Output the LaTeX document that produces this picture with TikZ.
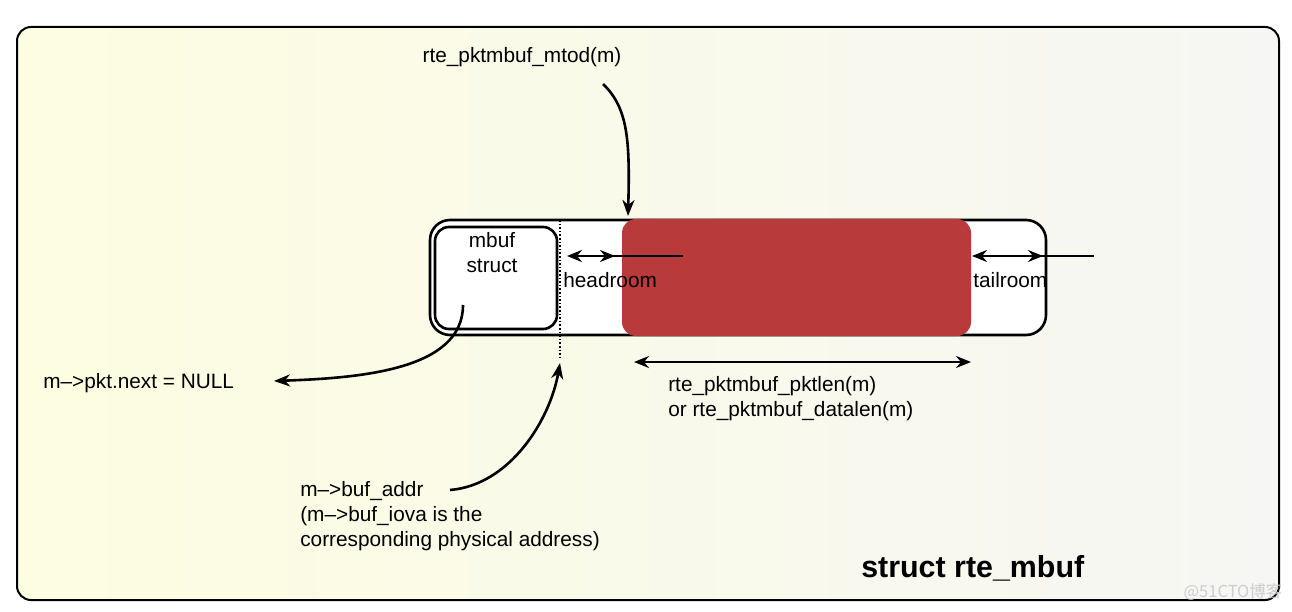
\documentclass[tikz,border=0pt]{standalone}
\usepackage{fontspec}
\setmainfont{Liberation Sans}
\newfontfamily\cjkfont{Noto Sans CJK SC}
\usepackage{tikz}
\usetikzlibrary{arrows.meta, calc}
\definecolor{payload}{RGB}{184,58,59}
\definecolor{paleleft}{RGB}{253,253,225}
\definecolor{paleright}{RGB}{246,246,244}
\definecolor{wmgray}{RGB}{205,205,205}
\newcommand{\txt}{\fontsize{20.8}{25}\selectfont}

\begin{document}
\begin{tikzpicture}[x=1pt, y=-1pt, line width=2.6pt,
	arr/.style={-{Stealth[length=16pt, width=12pt, inset=5pt]}},
	dbl/.style={{Stealth[length=15pt, width=12pt, inset=5pt]}-{Stealth[length=15pt, width=12pt, inset=5pt]}},
	lbl/.style={font=\txt, inner sep=0pt}]

	\useasboundingbox[fill=white] (0,0) rectangle (1292,612);

	% frame
	\path[draw, line width=2pt, left color=paleleft, right color=paleright, rounded corners=14pt] (17,27) rectangle (1279,600);

	% buffer
	\coordinate (bufNW) at (430,220);
	\coordinate (bufSE) at (1046,335);
	\coordinate (structNW) at (435,227);
	\coordinate (structSE) at (557,329);
	\coordinate (bufaddr) at (560,220);
	\coordinate (bufaddrlow) at (560,360);

	\draw[fill=white, rounded corners=20pt] (bufNW) rectangle (bufSE);
	\draw[fill=white, rounded corners=14pt] (structNW) rectangle (structSE);
	\fill[payload, rounded corners=14pt] (622,219) rectangle (971,336);
	\draw[line width=1.6pt, dotted] (bufaddr) -- (bufaddrlow);

	\node[lbl, align=center] (mbuf) at (492,253) {mbuf\\struct};
	\node[lbl, anchor=west] (head) at (562,280) {headroom};
	\node[lbl, anchor=west] (tail) at (972,280) {tailroom};

	% headroom / tailroom
	\draw[dbl] (567,256) -- (615,256);
	\draw (600,256) -- (683,256);
	\draw[dbl] (972,256) -- (1043,256);
	\draw (1017,256) -- (1094,256);

	% labels
	\node[lbl] (mtod) at (522,57) {rte\_pktmbuf\_mtod(m)};
	\node[lbl, anchor=west] (next) at (42,383) {m–>pkt.next = NULL};
	\node[lbl, anchor=north west, align=left] (len) at (667,375) {rte\_pktmbuf\_pktlen(m)\\or rte\_pktmbuf\_datalen(m)};
	\node[lbl, anchor=north west, align=left] (addr) at (299,480) {m–>buf\_addr\\(m–>buf\_iova is the\\corresponding physical address)};
	\node[font=\fontsize{30.4}{34}\selectfont\bfseries, inner sep=0pt, anchor=west] (title) at (860,568) {struct rte\_mbuf};
	\node[font=\cjkfont\fontsize{16.5}{18}\selectfont, text=wmgray, inner sep=0pt] (wm) at (1233,592) {@51CTO博客};

	% connectors
	\coordinate (mtodfrom) at (603,84);
	\coordinate (mtodto) at (628,216);
	\coordinate (nextfrom) at (463,305);
	\coordinate (nextto) at (274,381);
	\coordinate (addrfrom) at (450,490);
	\coordinate (addrto) at (560,363);
	\coordinate (lenL) at (634,362);
	\coordinate (lenR) at (971,362);

	\draw[arr] (mtodfrom) .. controls (628,108) and (630,140) .. (mtodto);
	\draw[arr] (nextfrom) .. controls (463,370) and (360,378) .. (nextto);
	\draw[arr] (addrfrom) .. controls (510,485) and (550,420) .. (addrto);
	\draw[dbl] (lenL) -- (lenR);

\end{tikzpicture}
\end{document}
